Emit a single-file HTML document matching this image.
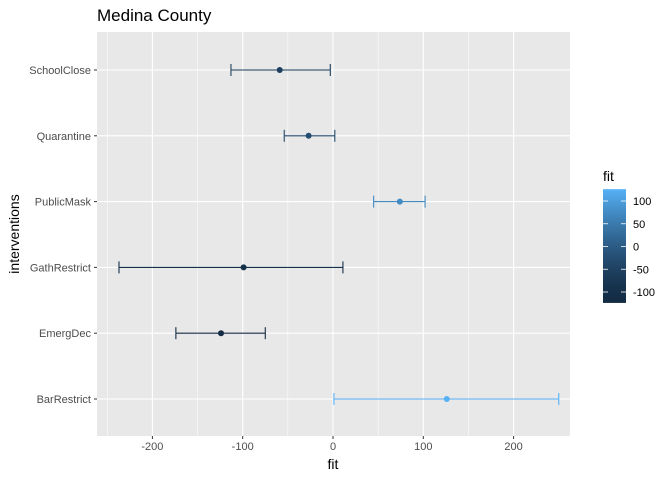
<!DOCTYPE html>
<html><head><meta charset="utf-8"><style>body{margin:0;background:#fff}svg{font-family:"Liberation Sans",sans-serif}</style></head>
<body>
<svg id="c" width="672" height="480">
<defs><linearGradient id="g" x1="0" y1="1" x2="0" y2="0"></linearGradient></defs>
</svg>
<script>
const categories=["BarRestrict","EmergDec","GathRestrict","PublicMask","Quarantine","SchoolClose"];
const fitValues=[126,-124,-99,74,-27,-59];
const lowerValues=[1,-174,-237,45,-54,-113];
const upperValues=[250,-75,11,102,2,-3];
const xTicks=[-200,-100,0,100,200];
const legendTicks=[100,50,0,-50,-100];
const NS="http://www.w3.org/2000/svg";
const svg=document.getElementById('c');
function mk(t,a,p){const e=document.createElementNS(NS,t);for(const k in a)e.setAttribute(k,a[k]);(p||svg).appendChild(e);return e;}
const L=97,R=570,T=32,B=436;
const x=v=>333+v*0.903;
const y=i=>399-i*65.8;
const fmin=Math.min(...fitValues),fmax=Math.max(...fitValues);
function lerp(a,b,t){return Math.round(a+(b-a)*t);}
function colT(t){t=Math.pow(t,1.45);return `rgb(${lerp(19,86,t)},${lerp(43,177,t)},${lerp(67,247,t)})`;}
function col(v){return colT((v-fmin)/(fmax-fmin));}
const grad=document.getElementById('g');
for(let k=0;k<=10;k++)mk('stop',{offset:k/10,'stop-color':colT(k/10)},grad);
const bg=mk('rect',{x:L,y:T,width:R-L,height:B-T,fill:'#E8E8E8'});

xTicks.slice(0,-1).forEach((v,i)=>{const m=mk('line',{x1:x(v+50),x2:x(v+50),y1:T,y2:B,stroke:'#fff','stroke-width':0.5});});
[-250].forEach(v=>{if(x(v)>L)mk('line',{x1:x(v),x2:x(v),y1:T,y2:B,stroke:'#fff','stroke-width':0.5});});
xTicks.forEach(v=>{const g=mk('line',{x1:x(v),x2:x(v),y1:T,y2:B,stroke:'#fff','stroke-width':1.1});
mk('line',{x1:x(v),x2:x(v),y1:B,y2:B+3,stroke:'#333'});
const t=mk('text',{x:x(v),y:B+14,'text-anchor':'middle','font-size':11,fill:'#4D4D4D'});t.textContent=v;});
categories.forEach((c,i)=>{const yy=y(i);
const g=mk('line',{x1:L,x2:R,y1:yy,y2:yy,stroke:'#fff','stroke-width':1.1});
mk('line',{x1:L-3,x2:L,y1:yy,y2:yy,stroke:'#333'});
const t=mk('text',{x:L-6,y:yy+4,'text-anchor':'end','font-size':11,fill:'#4D4D4D'});t.textContent=c;});
categories.forEach((c,i)=>{const yy=y(i),cl=col(fitValues[i]);
const gr=mk('g',{stroke:cl,'stroke-width':1.1});
mk('line',{x1:x(lowerValues[i]),x2:x(upperValues[i]),y1:yy,y2:yy},gr);
mk('line',{x1:x(lowerValues[i]),x2:x(lowerValues[i]),y1:yy-6,y2:yy+6},gr);
mk('line',{x1:x(upperValues[i]),x2:x(upperValues[i]),y1:yy-6,y2:yy+6},gr);
const p=mk('circle',{cx:x(fitValues[i]),cy:yy,r:3,fill:cl});});
const ti=mk('text',{x:97,y:21,'font-size':17,fill:'#000'});ti.textContent='Medina County';
const xt=mk('text',{x:333,y:469,'text-anchor':'middle','font-size':14,fill:'#000'});xt.textContent='fit';
const yt=mk('text',{x:19,y:234,'text-anchor':'middle','font-size':14,fill:'#000',transform:'rotate(-90 19 234)'});yt.textContent='interventions';
const lg=mk('g',{});
const lt=mk('text',{x:603,y:181,'font-size':14,fill:'#000'},lg);lt.textContent='fit';
const ly=v=>246.5-v*0.455;
mk('rect',{x:603,y:ly(fmax),width:23,height:ly(fmin)-ly(fmax),fill:'url(#g)'},lg);
legendTicks.forEach(v=>{mk('line',{x1:603,x2:608,y1:ly(v),y2:ly(v),stroke:'#fff','stroke-width':0.8},lg);mk('line',{x1:621,x2:626,y1:ly(v),y2:ly(v),stroke:'#fff','stroke-width':0.8},lg);
const t=mk('text',{x:633,y:ly(v)+4,'font-size':11,fill:'#000'},lg);t.textContent=v;});
</script>
</body></html>
